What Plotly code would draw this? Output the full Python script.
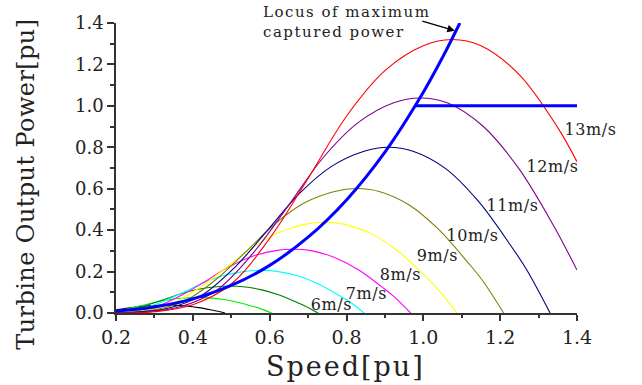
import plotly.graph_objects as go

# ---- data ----
wind_speeds = [4, 5, 6, 7, 8, 9, 10, 11, 12, 13]
wind_labels = ["4m/s", "5m/s", "6m/s", "7m/s", "8m/s", "9m/s", "10m/s", "11m/s", "12m/s", "13m/s"]

speed_4 = [0.2, 0.215, 0.246, 0.277, 0.308, 0.330, 0.354, 0.385, 0.415, 0.446, 0.462, 0.484]
power_4 = [0.015, 0.019, 0.028, 0.034, 0.037, 0.038, 0.037, 0.033, 0.026, 0.016, 0.010, 0.0]

speed_5 = [0.2, 0.231, 0.269, 0.308, 0.346, 0.385, 0.413, 0.442, 0.481, 0.519, 0.558, 0.577, 0.605]
power_5 = [0.010, 0.020, 0.037, 0.054, 0.067, 0.073, 0.075, 0.073, 0.065, 0.051, 0.031, 0.020, 0.0]

speed_6 = [0.2, 0.231, 0.277, 0.323, 0.369, 0.415, 0.462, 0.496, 0.531, 0.577, 0.623, 0.669, 0.692, 0.726]
power_6 = [0.007, 0.014, 0.035, 0.064, 0.093, 0.115, 0.127, 0.130, 0.127, 0.113, 0.088, 0.053, 0.034, 0.0]

speed_7 = [0.2, 0.215, 0.269, 0.323, 0.377, 0.431, 0.485, 0.538, 0.578, 0.619, 0.673, 0.727, 0.781, 0.808, 0.846]
power_7 = [0.004, 0.006, 0.022, 0.056, 0.101, 0.148, 0.183, 0.201, 0.206, 0.201, 0.180, 0.140, 0.084, 0.054, 0.0]

speed_8 = [0.2, 0.246, 0.308, 0.369, 0.431, 0.492, 0.554, 0.615, 0.661, 0.708, 0.769, 0.831, 0.892, 0.923, 0.967]
power_8 = [0.003, 0.009, 0.033, 0.084, 0.151, 0.221, 0.273, 0.301, 0.308, 0.301, 0.268, 0.209, 0.126, 0.080, 0.0]

speed_9 = [0.2, 0.277, 0.346, 0.415, 0.485, 0.554, 0.623, 0.692, 0.744, 0.796, 0.865, 0.935, 1.004, 1.038, 1.088]
power_9 = [0.002, 0.013, 0.046, 0.119, 0.216, 0.315, 0.388, 0.428, 0.438, 0.428, 0.382, 0.297, 0.179, 0.114, 0.0]

speed_10 = [0.2, 0.231, 0.308, 0.385, 0.462, 0.538, 0.615, 0.692, 0.769, 0.826, 0.885, 0.962, 1.038, 1.115, 1.154, 1.209]
power_10 = [0.001, 0.003, 0.018, 0.064, 0.164, 0.296, 0.432, 0.533, 0.587, 0.601, 0.587, 0.523, 0.407, 0.246, 0.157, 0.0]

speed_11 = [0.2, 0.254, 0.338, 0.423, 0.508, 0.592, 0.677, 0.762, 0.846, 0.909, 0.973, 1.058, 1.142, 1.227, 1.269, 1.330]
power_11 = [0.001, 0.004, 0.024, 0.085, 0.218, 0.394, 0.576, 0.709, 0.781, 0.800, 0.781, 0.697, 0.542, 0.327, 0.209, 0.0]

speed_12 = [0.2, 0.277, 0.369, 0.462, 0.554, 0.646, 0.738, 0.831, 0.923, 0.991, 1.062, 1.154, 1.246, 1.338, 1.4]
power_12 = [0.001, 0.005, 0.031, 0.110, 0.283, 0.511, 0.747, 0.920, 1.015, 1.038, 1.015, 0.904, 0.704, 0.425, 0.207]

speed_13 = [0.2, 0.3, 0.4, 0.5, 0.6, 0.7, 0.8, 0.9, 1.0, 1.074, 1.15, 1.25, 1.35, 1.4]
power_13 = [0.0, 0.006, 0.04, 0.14, 0.36, 0.65, 0.95, 1.17, 1.29, 1.32, 1.29, 1.15, 0.895, 0.73]

locus_speed = [0.2, 0.3, 0.4, 0.5, 0.6, 0.7, 0.8, 0.9, 1.0, 1.05, 1.095]
locus_power = [0.01, 0.029, 0.068, 0.133, 0.23, 0.366, 0.546, 0.777, 1.066, 1.234, 1.40]

rated_speed = [0.98, 1.4]
rated_power = [1.0, 1.0]

# label anchor positions (speed, power) for the wind-speed labels
label_speed = [0.762, 0.853, 0.941, 1.037, 1.128, 1.232, 1.335]
label_power = [0.040, 0.094, 0.184, 0.280, 0.375, 0.518, 0.708]
label_text = ["6m/s", "7m/s", "8m/s", "9m/s", "10m/s", "11m/s", "12m/s"]

curves = [
    (speed_4, power_4, "#000000"),
    (speed_5, power_5, "#00ee00"),
    (speed_6, power_6, "#008000"),
    (speed_7, power_7, "#00ffff"),
    (speed_8, power_8, "#ff00ff"),
    (speed_9, power_9, "#ffff00"),
    (speed_10, power_10, "#808000"),
    (speed_11, power_11, "#000080"),
    (speed_12, power_12, "#800090"),
    (speed_13, power_13, "#ff0000"),
]

FONT = "DejaVu Serif"
TXT = "#222222"
AX = "#333333"

fig = go.Figure()
for (sx, py, col), name in zip(curves, wind_labels):
    fig.add_trace(go.Scatter(x=sx, y=py, mode="lines", name=name,
                             line=dict(color=col, width=1.1, shape="spline", smoothing=1.0)))

fig.add_trace(go.Scatter(x=locus_speed, y=locus_power, mode="lines",
                         line=dict(color="#0000ff", width=3, shape="spline"), name="locus"))
fig.add_trace(go.Scatter(x=rated_speed, y=rated_power, mode="lines",
                         line=dict(color="#0000ff", width=3), name="rated"))

annotations = [
    dict(text="Locus of maximum<br>captured power", xref="x", yref="paper",
         x=0.577, y=1.005, xanchor="left", yanchor="middle", align="left",
         showarrow=False, font=dict(family=FONT, size=15, color=TXT)),
    dict(text="", xref="x", yref="y", x=1.082, y=1.363, ax=-34, ay=-10,
         showarrow=True, arrowhead=2, arrowsize=1, arrowwidth=1.5, arrowcolor="#000000"),
    dict(text="Turbine Output Power[pu]", xref="paper", yref="paper",
         x=-0.197, y=0.446, xanchor="center", yanchor="middle", textangle=-90,
         showarrow=False, font=dict(family=FONT, size=24, color=TXT)),
    dict(text="Speed[pu]", xref="paper", yref="paper", x=0.497, y=-0.186,
         xanchor="center", yanchor="middle", showarrow=False,
         font=dict(family=FONT, size=27, color=TXT)),
    dict(text="13m/s", xref="paper", yref="y", x=0.972, y=0.884, xanchor="left",
         yanchor="middle", showarrow=False, font=dict(family=FONT, size=16, color=TXT)),
]
for lx, ly, lt in zip(label_speed, label_power, label_text):
    annotations.append(dict(text=lt, xref="x", yref="y", x=lx, y=ly, xanchor="center",
                            yanchor="middle", showarrow=False,
                            font=dict(family=FONT, size=16, color=TXT)))

fig.update_layout(
    width=642, height=385,
    margin=dict(l=116, r=65, t=18, b=72),
    paper_bgcolor="white", plot_bgcolor="white",
    showlegend=False,
    font=dict(family=FONT, color=TXT),
    annotations=annotations,
)
fig.update_xaxes(range=[0.2, 1.4], tickmode="linear", tick0=0.2, dtick=0.2, tickformat=".1f",
                 showgrid=False, zeroline=False, showline=True, linecolor=AX, linewidth=1.5,
                 ticks="outside", ticklen=6, tickwidth=1.5, tickcolor=AX,
                 minor=dict(dtick=0.1, ticks="outside", ticklen=3, tickwidth=1.5, tickcolor=AX),
                 tickfont=dict(family=FONT, size=19, color=TXT))
fig.update_yaxes(range=[0, 1.4], tickmode="linear", tick0=0, dtick=0.2, tickformat=".1f",
                 showgrid=False, zeroline=False, showline=True, linecolor=AX, linewidth=1.5,
                 ticks="outside", ticklen=7, tickwidth=1.5, tickcolor=AX,
                 minor=dict(dtick=0.1, ticks="outside", ticklen=4, tickwidth=1.5, tickcolor=AX),
                 tickfont=dict(family=FONT, size=18, color=TXT))

css = ('html,body{margin:0;padding:0;overflow:hidden}'
       '.annotation-text{letter-spacing:0.6px}'
       '.annotation[data-index="0"] .annotation-text{letter-spacing:1.5px}'
       '.annotation[data-index="2"] .annotation-text{letter-spacing:0.4px}'
       '.annotation[data-index="3"] .annotation-text{letter-spacing:2px}')
post = ("var s=document.createElement('style');s.textContent='" + css +
        "';document.head.appendChild(s);document.body.style.margin='0';")

fig.write_html("out.html", post_script=post, config={"displayModeBar": False})
